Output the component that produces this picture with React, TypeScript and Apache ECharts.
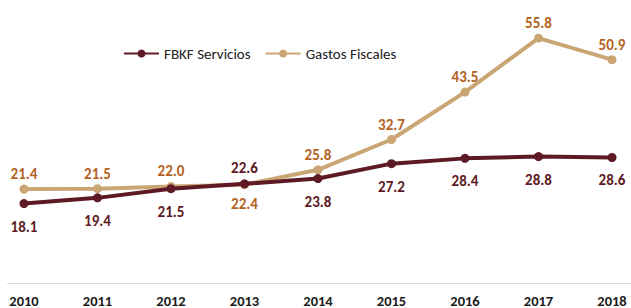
import React, { useEffect, useRef } from "react";
import * as echarts from "echarts";

const years = ["2010", "2011", "2012", "2013", "2014", "2015", "2016", "2017", "2018"];
const fbkf = [18.1, 19.4, 21.5, 22.6, 23.8, 27.2, 28.4, 28.8, 28.6];
const gastos = [21.4, 21.5, 22.0, 22.4, 25.8, 32.7, 43.5, 55.8, 50.9];
const fbkfFlipIdx = [3];
const gastosFlipIdx = [3];

const FONT = "Carlito, Lato, 'Open Sans', sans-serif";
const DARK = "#5E1A24";
const TAN = "#CBA675";
const ORANGE = "#B3621E";

export default function App() {
  const ref = useRef<HTMLDivElement>(null);
  useEffect(() => {
    const chart = echarts.init(ref.current!, null, { renderer: "svg" });
    const fbkfData = fbkf.map((v, i) =>
      fbkfFlipIdx.includes(i)
        ? { value: v, label: { position: "top", distance: 4 } }
        : v
    );
    const gastosData = gastos.map((v, i) =>
      gastosFlipIdx.includes(i)
        ? { value: v, label: { position: "bottom", distance: 7 } }
        : v
    );
    chart.setOption({
      animation: false,
      backgroundColor: "#ffffff",
      textStyle: { fontFamily: FONT },
      legend: {
        left: 118,
        top: 41,
        itemWidth: 35,
        itemHeight: 10,
        itemGap: 14,
        textStyle: { fontFamily: FONT, fontSize: 15, color: "#222" },
        data: ["FBKF Servicios", "Gastos Fiscales"],
      },
      grid: { left: 24, right: 19, top: 19.7, bottom: 22.5, containLabel: false },
      xAxis: {
        type: "category",
        data: years,
        boundaryGap: false,
        axisLine: { show: false },
        axisTick: { show: false },
        axisLabel: {
          fontFamily: FONT,
          fontSize: 14.5,
          fontWeight: "bold",
          color: "#1a1a1a",
          margin: 10,
        },
      },
      yAxis: {
        type: "value",
        min: 0,
        max: 60,
        show: false,
        splitLine: { show: false },
      },
      graphic: [
        {
          type: "line",
          shape: { x1: 7, y1: 283.5, x2: 631, y2: 283.5 },
          style: { stroke: "#d9d9d9", lineWidth: 1 },
          z: 0,
        },
      ],
      series: [
        {
          name: "FBKF Servicios",
          type: "line",
          data: fbkfData,
          symbol: "circle",
          symbolSize: 9,
          lineStyle: { color: DARK, width: 4 },
          itemStyle: { color: DARK },
          label: {
            show: true,
            position: "bottom",
            distance: 11,
            fontFamily: FONT,
            fontSize: 15,
            fontWeight: "bold",
            color: DARK,
            formatter: (p: any) => Number(p.value).toFixed(1),
          },
          z: 3,
        },
        {
          name: "Gastos Fiscales",
          type: "line",
          data: gastosData,
          symbol: "circle",
          symbolSize: 9,
          lineStyle: { color: TAN, width: 4 },
          itemStyle: { color: TAN },
          label: {
            show: true,
            position: "top",
            distance: 3,
            fontFamily: FONT,
            fontSize: 15,
            fontWeight: "bold",
            color: ORANGE,
            formatter: (p: any) => Number(p.value).toFixed(1),
          },
          z: 2,
        },
      ],
    });
    return () => chart.dispose();
  }, []);
  return <div ref={ref} style={{ width: 631, height: 308, position: "absolute", left: 0, top: 0 }} />;
}
